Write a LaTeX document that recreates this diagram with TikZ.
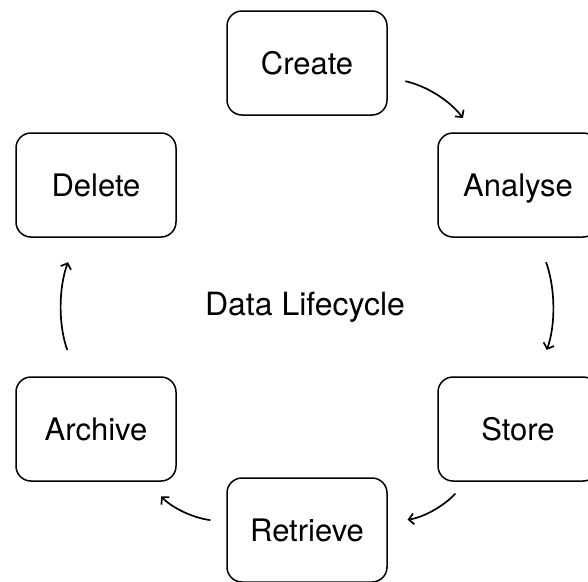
\documentclass[tikz,border=0pt]{standalone}
\usepackage{fontspec}
\setmainfont{TeX Gyre Heros}
\usetikzlibrary{arrows.meta,positioning}

\begin{document}
\begin{tikzpicture}[x=1pt,y=1pt]
\useasboundingbox (0,0) rectangle (588,-581);
\tikzset{stage/.style={draw,line width=1.5pt,rounded corners=15pt,minimum width=160pt,minimum height=104pt,text height=23pt,text depth=0pt,font=\fontsize{31}{37}\selectfont}}

\foreach \name/\x/\y in {Create/307/-63,Analyse/518/-185,Store/518/-429,Retrieve/307/-530,Archive/96/-429,Delete/96/-185}
	\node[stage] (\name) at (\x,\y) {\name};

\node[font=\fontsize{32}{38}\selectfont] (title) at (305,-307) {Data Lifecycle};

\path[->,>={Straight Barb[length=5pt,width=11pt]},line width=1.7pt]
	(Create) edge [bend left=20,shorten <=18pt,shorten >=18pt] (Analyse)
	(Analyse) edge [bend left=20,shorten <=26pt,shorten >=28pt] (Store)
	(Store) edge [bend left=20,shorten <=16pt,shorten >=20pt] (Retrieve)
	(Retrieve) edge [bend left=20,shorten <=16pt,shorten >=20pt] (Archive)
	(Archive) edge [bend left=20,shorten <=28pt,shorten >=26pt] (Delete);
\end{tikzpicture}
\end{document}
